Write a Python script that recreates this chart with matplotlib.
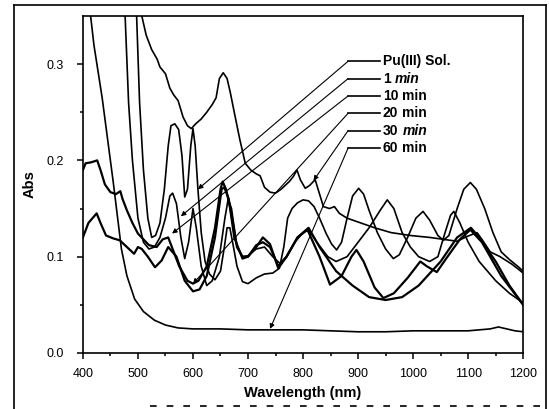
import matplotlib
matplotlib.use("Agg")
import matplotlib.pyplot as plt
from matplotlib.lines import Line2D
from matplotlib.transforms import offset_copy

plt.rcParams['font.family'] = ['Liberation Sans', 'DejaVu Sans']

# spectra (wavelength nm, absorbance)
w_pu3 = [497, 503, 510, 518, 525, 532, 540, 548, 555, 560, 567, 574, 580, 585, 590, 596, 600, 604, 609, 615, 622, 630, 640, 650, 657, 662, 667, 672, 680, 690, 700, 715, 730, 745, 757, 765, 772, 780, 790, 800, 810, 820, 830, 842, 852, 861, 870, 880, 890, 901, 910, 920, 935, 950, 964, 975, 990, 1005, 1018, 1030, 1045, 1055, 1065, 1080, 1092, 1104, 1115, 1130, 1145, 1160, 1175, 1190, 1200]
a_pu3 = [0.36, 0.26, 0.19, 0.14, 0.12, 0.122, 0.135, 0.17, 0.215, 0.236, 0.238, 0.232, 0.205, 0.162, 0.17, 0.215, 0.233, 0.215, 0.17, 0.125, 0.095, 0.082, 0.076, 0.085, 0.11, 0.13, 0.13, 0.115, 0.09, 0.074, 0.072, 0.078, 0.082, 0.083, 0.088, 0.11, 0.14, 0.15, 0.156, 0.159, 0.158, 0.152, 0.14, 0.124, 0.113, 0.107, 0.115, 0.14, 0.163, 0.171, 0.165, 0.148, 0.125, 0.108, 0.098, 0.102, 0.12, 0.14, 0.147, 0.138, 0.122, 0.117, 0.122, 0.15, 0.17, 0.177, 0.17, 0.15, 0.125, 0.105, 0.097, 0.09, 0.085]

w_1 = [476, 483, 490, 500, 510, 520, 530, 540, 550, 558, 563, 570, 578, 585, 592, 600, 606, 615, 625, 635, 648, 658, 664, 670, 680, 690, 700, 715, 730, 745, 758, 770, 785, 800, 810, 825, 845, 860, 880, 900, 920, 940, 953, 965, 980, 995, 1010, 1030, 1045, 1058, 1068, 1074, 1085, 1100, 1120, 1150, 1175, 1200]
a_1 = [0.36, 0.26, 0.2, 0.14, 0.115, 0.108, 0.11, 0.12, 0.14, 0.163, 0.166, 0.155, 0.12, 0.098, 0.115, 0.15, 0.13, 0.09, 0.07, 0.075, 0.1, 0.14, 0.16, 0.15, 0.11, 0.1, 0.101, 0.108, 0.11, 0.1, 0.093, 0.1, 0.115, 0.125, 0.128, 0.115, 0.1, 0.095, 0.1, 0.115, 0.13, 0.148, 0.159, 0.15, 0.125, 0.11, 0.1, 0.095, 0.1, 0.125, 0.143, 0.147, 0.135, 0.115, 0.095, 0.075, 0.062, 0.052]

w_10 = [400, 405, 415, 426, 432, 440, 450, 460, 468, 472, 480, 490, 500, 510, 520, 534, 545, 555, 565, 575, 590, 600, 610, 625, 640, 650, 654, 660, 668, 680, 690, 700, 715, 727, 740, 755, 770, 790, 810, 830, 860, 890, 920, 950, 980, 1010, 1050, 1080, 1105, 1120, 1150, 1175, 1200]
a_10 = [0.19, 0.197, 0.198, 0.2, 0.19, 0.175, 0.167, 0.165, 0.168, 0.16, 0.148, 0.135, 0.124, 0.118, 0.112, 0.11, 0.118, 0.12, 0.105, 0.09, 0.075, 0.072, 0.075, 0.09, 0.13, 0.17, 0.178, 0.17, 0.15, 0.11, 0.1, 0.1, 0.112, 0.115, 0.11, 0.09, 0.1, 0.12, 0.13, 0.11, 0.085, 0.07, 0.058, 0.055, 0.058, 0.07, 0.095, 0.12, 0.13, 0.12, 0.095, 0.07, 0.05]

w_20 = [400, 410, 425, 432, 442, 455, 467, 480, 493, 500, 507, 518, 531, 543, 555, 570, 585, 600, 612, 625, 640, 652, 657, 665, 675, 690, 700, 715, 727, 740, 755, 770, 790, 808, 830, 849, 870, 888, 897, 910, 930, 946, 965, 990, 1013, 1025, 1043, 1060, 1085, 1104, 1125, 1160, 1200]
a_20 = [0.12, 0.135, 0.145, 0.135, 0.122, 0.119, 0.117, 0.11, 0.103, 0.11, 0.108, 0.1, 0.089, 0.096, 0.11, 0.1, 0.075, 0.064, 0.066, 0.08, 0.12, 0.17, 0.172, 0.16, 0.12, 0.098, 0.1, 0.11, 0.12, 0.113, 0.088, 0.1, 0.12, 0.128, 0.1, 0.071, 0.08, 0.1, 0.107, 0.095, 0.068, 0.057, 0.062, 0.078, 0.095, 0.09, 0.084, 0.098, 0.118, 0.128, 0.115, 0.08, 0.05]

w_30 = [503, 515, 525, 535, 540, 550, 558, 565, 573, 582, 590, 597, 605, 615, 625, 635, 642, 648, 655, 662, 668, 675, 685, 695, 705, 715, 722, 730, 740, 750, 760, 775, 782, 789, 795, 804, 812, 822, 830, 837, 848, 857, 866, 880, 900, 930, 960, 995, 1030, 1055, 1080, 1098, 1116, 1125, 1140, 1158, 1180, 1200]
a_30 = [0.36, 0.33, 0.315, 0.305, 0.297, 0.29, 0.275, 0.268, 0.262, 0.245, 0.236, 0.233, 0.238, 0.243, 0.25, 0.258, 0.265, 0.285, 0.291, 0.285, 0.27, 0.25, 0.222, 0.197, 0.19, 0.186, 0.184, 0.172, 0.167, 0.166, 0.17, 0.178, 0.183, 0.19, 0.18, 0.171, 0.174, 0.18, 0.165, 0.152, 0.15, 0.152, 0.145, 0.14, 0.136, 0.13, 0.125, 0.122, 0.12, 0.118, 0.116, 0.121, 0.125, 0.118, 0.105, 0.1, 0.092, 0.083]

w_60 = [412, 420, 435, 455, 470, 480, 494, 510, 530, 550, 573, 600, 650, 700, 750, 800, 850, 900, 950, 1000, 1050, 1100, 1140, 1155, 1170, 1185, 1200]
a_60 = [0.36, 0.32, 0.265, 0.178, 0.108, 0.08, 0.056, 0.043, 0.034, 0.029, 0.026, 0.025, 0.025, 0.024, 0.024, 0.024, 0.023, 0.022, 0.022, 0.023, 0.023, 0.023, 0.025, 0.027, 0.025, 0.023, 0.022]

# label: (number part, unit part, unit italic?)
label_num = ["Pu(III) Sol.", "1", "10", "20", "30", "60"]
label_unit = ["", "min", "min", "min", "min", "min"]
unit_italic = [False, True, False, False, True, False]
label_y = [0.303, 0.285, 0.267, 0.249, 0.231, 0.213]
arrow_tips = [(609, 0.17), (578, 0.142), (562, 0.124), (600, 0.072), (819, 0.179), (740, 0.025)]

fig = plt.figure(figsize=(5.49, 4.09), dpi=100)
ax = fig.add_axes([0.151, 0.137, 0.802, 0.824])

for w, a, lw in [(w_pu3, a_pu3, 1.2), (w_1, a_1, 1.2), (w_10, a_10, 1.6),
                 (w_20, a_20, 1.6), (w_30, a_30, 1.2), (w_60, a_60, 1.2)]:
    ax.plot(w, a, color='black', lw=lw)

# labels with leader lines and arrows
for num, unit, it, ly, tip in zip(label_num, label_unit, unit_italic, label_y, arrow_tips):
    ax.plot([882, 940], [ly, ly], color='black', lw=1.2)
    ax.text(945, ly, num, fontsize=10, fontweight='bold', va='center')
    if unit:
        shift = 10 * (0.556 * len(num) + 0.3)
        tr = offset_copy(ax.transData, fig=fig, x=shift, y=0, units='points')
        ax.text(945, ly, unit, fontsize=10, fontweight='bold', va='center',
                fontstyle='italic' if it else 'normal', transform=tr)
    ax.annotate('', xy=tip, xytext=(882, ly),
                arrowprops=dict(arrowstyle='-|>', lw=0.8, color='black',
                                mutation_scale=7, shrinkA=0, shrinkB=0))

ax.set_xlim(400, 1200)
ax.set_ylim(0, 0.35)
ax.set_xticks([400, 500, 600, 700, 800, 900, 1000, 1100, 1200])
ax.set_xticks(range(450, 1200, 100), minor=True)
ax.set_yticks([0.0, 0.1, 0.2, 0.3])
ax.set_yticks([0.05, 0.15, 0.25], minor=True)
ax.tick_params(which='both', direction='out', labelsize=9, width=1.1)
ax.tick_params(which='major', length=4.5)
ax.tick_params(which='minor', length=2.5)
ax.tick_params(axis='y', which='major', pad=9)
ax.tick_params(axis='x', which='major', pad=6)
for s in ax.spines.values():
    s.set_linewidth(1.2)
ax.set_xlabel("Wavelength (nm)", fontsize=10.5, fontweight='bold', labelpad=5)
ax.set_ylabel("Abs", fontsize=10.5, fontweight='bold', labelpad=7)

# scanned page frame
W, H = 549, 409
fig.add_artist(Line2D([14 / W, 14 / W], [0, 1 - 5 / H], color='black', lw=1.2))
fig.add_artist(Line2D([14 / W, 546 / W], [1 - 5 / H, 1 - 5 / H], color='black', lw=1.2))
fig.add_artist(Line2D([546 / W, 546 / W], [0, 1 - 5 / H], color='black', lw=1.2))
fig.add_artist(Line2D([150 / W, 546 / W], [3 / H, 3 / H], color='black', lw=1.2, ls=(0, (4, 6))))

fig.savefig("out.png", dpi=100)
